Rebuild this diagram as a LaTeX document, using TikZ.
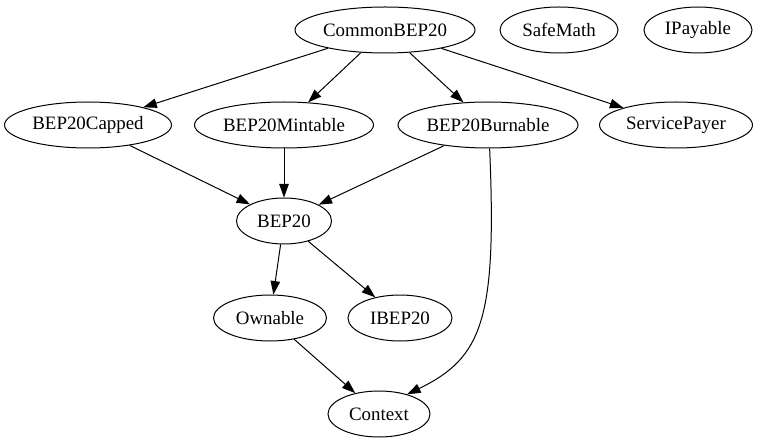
\documentclass[tikz,border=0pt]{standalone}
\usepackage{fontspec}
\setmainfont{Liberation Serif}
\usetikzlibrary{arrows.meta,shapes.geometric}
\begin{document}
\begin{tikzpicture}[x=1pt,y=-1pt,
  nd/.style={draw,ellipse,line width=1pt,inner sep=0pt,font=\fontsize{18.9}{20}\selectfont},
  ed/.style={draw,line width=1pt,-{Triangle[length=13.5pt,width=9.5pt]}}]
\useasboundingbox (0,0) rectangle (759,443);
\node[nd,minimum width=180,minimum height=46] (common) at (385,30) {CommonBEP20};
\node[nd,minimum width=118,minimum height=46] (safe) at (559,30) {SafeMath};
\node[nd,minimum width=108,minimum height=46] (ipay) at (698,30) {IPayable};
\node[nd,minimum width=167,minimum height=46] (capped) at (88,125) {BEP20Capped};
\node[nd,minimum width=179,minimum height=46] (mint) at (284,125) {BEP20Mintable};
\node[nd,minimum width=180,minimum height=46] (burn) at (488,125) {BEP20Burnable};
\node[nd,minimum width=153,minimum height=46] (serv) at (676,125) {ServicePayer};
\node[nd,minimum width=95,minimum height=46] (bep) at (284,221) {BEP20};
\node[nd,minimum width=113,minimum height=46] (own) at (270,318) {Ownable};
\node[nd,minimum width=104,minimum height=46] (ibep) at (400,318) {IBEP20};
\node[nd,minimum width=102,minimum height=46] (ctx) at (379,414) {Context};
\draw[ed] (common) -- (capped);
\draw[ed] (common) -- (mint);
\draw[ed] (common) -- (burn);
\draw[ed] (common) -- (serv);
\draw[ed] (capped) -- (bep);
\draw[ed] (mint) -- (bep);
\draw[ed] (burn) -- (bep);
\draw[ed] (burn.-86) .. controls (497,320) and (482,358) .. (ctx.35);
\draw[ed] (bep) -- (own);
\draw[ed] (bep) -- (ibep);
\draw[ed] (own) -- (ctx);
\end{tikzpicture}
\end{document}
